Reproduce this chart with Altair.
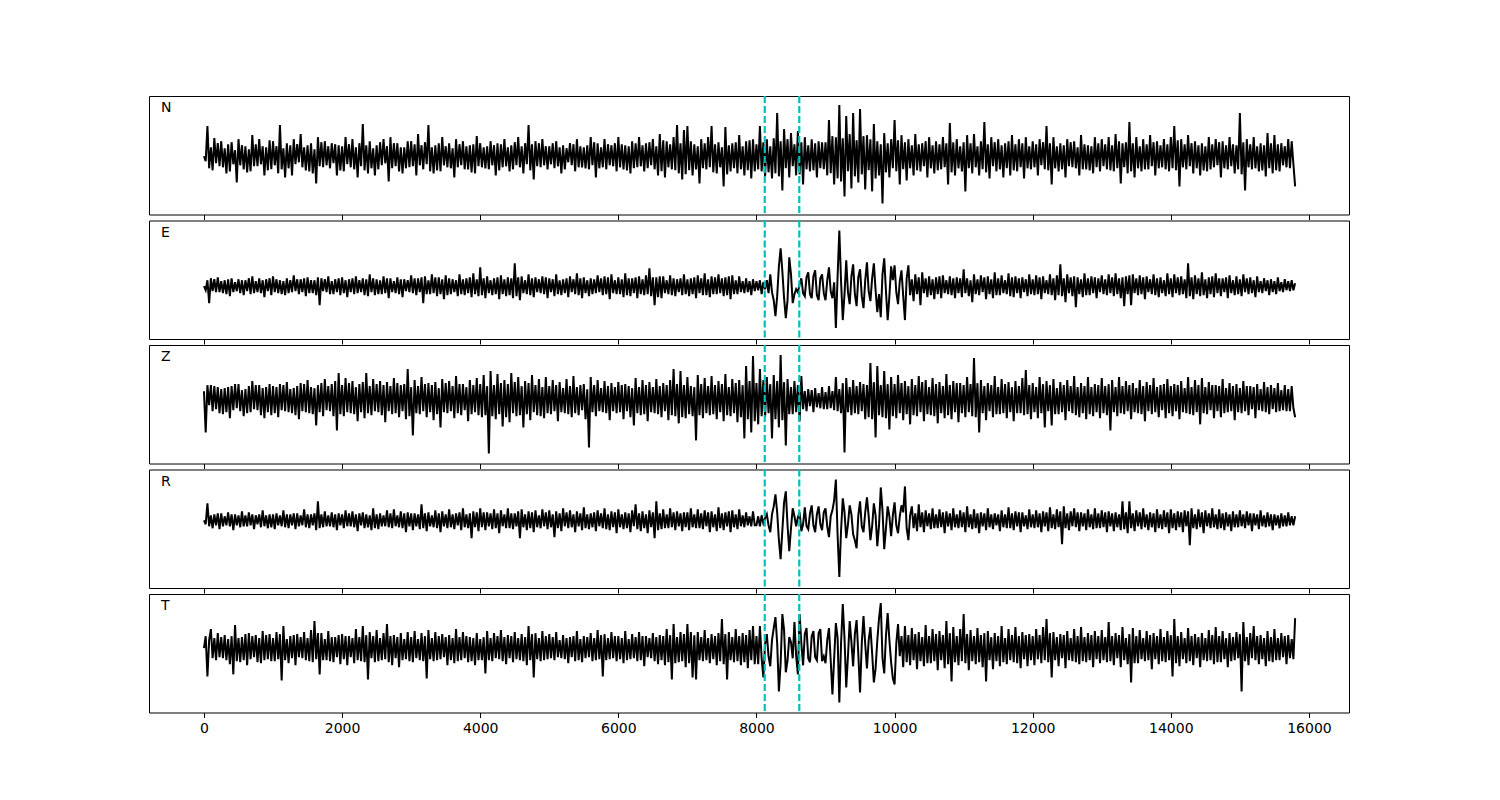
import altair as alt
import pandas as pd

STEP = 25
COMPONENTS = ["N", "E", "Z", "R", "T"]
PICKS = [8120, 8620]
X_TICKS = [0, 2000, 4000, 6000, 8000, 10000, 12000, 14000, 16000]

N_ROWS = [
    [0,-5, 30,-12, 9,-14, 18,-7, 13,-10, 15,-11, 8,-17, 12,-15, 14,-8, 6,-26, 17,-9, 11,-13, 10,-16, 7,-15, 21,-10, 12,-10, 17,-8, 10,-19, 9,-14, 16,-13],
    [15,-9, 10,-17, 31,-13, 8,-21, 13,-12, 11,-19, 17,-8, 12,-6, 22,-11, 9,-14, 11,-15, 13,-17, 7,-27, 19,-10, 14,-11, 15,-9, 10,-12, 13,-7, 12,-19, 11,-14],
    [10,-15, 19,-8, 12,-11, 17,-13, 9,-21, 13,-10, 32,-14, 11,-17, 15,-12, 8,-19, 11,-13, 14,-9, 17,-7, 10,-25, 19,-12, 13,-10, 13,-15, 9,-17, 9,-12, 15,-11],
    [15,-10, 12,-19, 22,-9, 11,-13, 14,-8, 31,-15, 9,-17, 11,-14, 13,-15, 19,-9, 10,-11, 13,-12, 8,-21, 17,-11, 12,-9, 15,-13, 10,-13, 11,-16, 12,-17, 20,-10],
    [13,-11, 9,-12, 10,-13, 15,-9, 11,-19, 13,-14, 12,-11, 17,-10, 9,-15, 11,-13, 14,-9, 19,-11, 10,-17, 13,-8, 31,-14, 12,-23, 15,-10, 13,-11, 17,-9, 10,-13],
    [10,-8, 13,-12, 15,-10, 9,-17, 11,-13, 8,-6, 13,-9, 12,-15, 17,-11, 10,-11, 9,-12, 11,-13, 19,-9, 14,-21, 13,-12, 9,-11, 17,-13, 12,-9, 11,-10, 13,-15],
    [19,-11, 12,-13, 11,-14, 10,-17, 15,-12, 13,-11, 19,-10, 11,-15, 13,-12, 14,-9, 17,-13, 10,-19, 22,-15, 16,-21, 15,-11, 12,-13, 19,-14, 31,-17, 13,-23, 26,-18],
    [30,-14, 15,-19, 12,-13, 10,-27, 17,-12, 13,-13, 19,-11, 30,-16, 12,-17, 14,-11, 9,-30, 29,-18, 11,-15, 13,-12, 14,-17, 21,-13, 10,-19, 15,-14, 16,-22, 17,-15],
    [12,-13, 30,-15, 14,-20, 17,-16, 10,-22, 18,-17, 43,-20, 15,-34, 27,-12, 17,-21, 23,-10, 12,-19, 25,-18, 14,-28, 19,-13, 11,-15, 17,-14, 13,-21, 15,-12, 14,-13],
    [14,-19, 36,-17, 20,-28, 19,-22, 51,-25, 18,-40, 40,-15, 22,-32, 43,-20, 16,-26, 47,-18, 20,-33, 21,-14, 17,-35, 32,-22, 15,-19, 12,-47, 23,-16, 13,-21, 17,-12],
    [36,-15, 16,-28, 21,-13, 14,-24, 17,-12, 11,-19, 22,-14, 12,-15, 13,-10, 15,-21, 19,-12, 11,-17, 15,-14, 12,-13, 19,-11, 13,-28, 33,-16, 14,-19, 17,-12, 10,-15],
    [14,-35, 21,-12, 13,-17, 22,-11, 10,-19, 15,-13, 34,-16, 12,-22, 19,-10, 14,-15, 17,-13, 11,-21, 13,-12, 15,-19, 21,-14, 12,-15, 17,-11, 13,-22, 19,-12, 10,-13],
    [15,-11, 12,-19, 17,-9, 14,-13, 30,-14, 13,-28, 19,-12, 10,-15, 13,-13, 11,-21, 17,-10, 14,-11, 15,-12, 9,-19, 21,-13, 12,-13, 11,-14, 10,-17, 19,-11, 13,-15],
    [17,-10, 12,-13, 19,-14, 11,-15, 22,-12, 15,-27, 13,-11, 14,-17, 34,-15, 13,-21, 19,-12, 10,-15, 17,-13, 12,-13, 21,-10, 14,-19, 15,-12, 11,-11, 17,-13, 12,-15],
    [19,-12, 30,-14, 16,-30, 17,-11, 12,-13, 21,-10, 13,-17, 15,-12, 11,-19, 13,-14, 10,-15, 19,-13, 12,-11, 17,-9, 14,-21, 15,-12, 11,-13, 19,-10, 12,-17, 11,-13],
    [43,-18, 14,-34, 17,-11, 12,-13, 19,-12, 10,-15, 13,-14, 11,-20, 23,-12, 13,-17, 21,-14, 12,-15, 13,-9, 10,-11, 17,-12, 15,-8, -30],
]

E_ROWS = [
    [0,-4, 6,-17, 8,-5, 7,-6, 9,-6, 5,-7, 6,-8, 7,-10, 8,-6, 4,-5, 7,-7, 6,-9, 6,-5, 8,-8, 10,-7, 5,-6, 8,-7, 6,-11, 7,-5, 8,-9],
    [10,-6, 7,-7, 6,-8, 5,-9, 8,-7, 6,-6, 11,-5, 7,-8, 7,-6, 8,-10, 9,-7, 6,-7, 6,-9, 9,-19, 8,-5, 7,-6, 10,-8, 5,-8, 7,-6, 8,-9],
    [9,-7, 6,-11, 7,-6, 8,-8, 10,-7, 6,-6, 8,-9, 7,-10, 12,-6, 8,-9, 7,-8, 6,-8, 10,-7, 8,-12, 8,-6, 5,-7, 9,-8, 7,-11, 7,-5, 6,-6],
    [11,-7, 8,-9, 8,-6, 9,-17, 10,-8, 6,-8, 12,-7, 9,-10, 9,-8, 7,-13, 11,-9, 8,-8, 7,-6, 6,-10, 12,-8, 7,-9, 8,-7, 9,-11, 13,-8, 7,-10],
    [19,-9, 8,-12, 10,-7, 6,-9, 8,-8, 9,-13, 11,-8, 7,-10, 9,-9, 8,-12, 23,-10, 9,-14, 10,-7, 6,-8, 12,-9, 8,-11, 9,-6, 7,-7, 10,-8, 9,-12],
    [8,-6, 7,-10, 12,-8, 6,-9, 7,-7, 8,-11, 10,-6, 7,-8, 13,-9, 8,-12, 9,-7, 6,-10, 8,-8, 7,-7, 11,-6, 8,-9, 10,-8, 9,-13, 12,-7, 6,-8],
    [9,-8, 7,-11, 13,-9, 8,-10, 8,-7, 9,-12, 10,-8, 7,-9, 11,-8, 18,-10, 9,-19, 9,-11, 10,-12, 10,-7, 6,-8, 11,-9, 8,-10, 7,-6, 8,-9, 12,-8],
    [7,-10, 8,-8, 9,-12, 11,-7, 8,-9, 13,-9, 7,-11, 10,-8, 9,-8, 12,-7, 8,-10, 9,-9, 10,-13, 11,-8, 6,-8, 10,-6, 5,-7, 8,-6, 5,-9, 7,-5],
    [5,-4, 6,-8, 4,-3, 6,-7, 12,-6, -14,-30, -10,20, 38,15, -12,-32, -14,29, 12,-17, -8,-3, -6,2, 8,-7, -10,9, 14,-8, -12,10, 16,-9, -14,8, 12,-7],
    [-14,6, 19,-5, -12,4, -42,10, 56,5, -34,-8, 26,-6, -18,10, 22,-8, -20,9, 17,-10, -22,6, 24,-5, -15,8, 23,-4, -26,-8, -31,12, 28,-5, -34,-10, 20,6],
    [21,-6, -18,5, 16,-10, -34,8, 21,-9, 7,-15, 12,-8, 9,-19, 14,-7, 8,-11, 10,-9, 7,-13, 9,-8, 10,-12, 11,-7, 6,-8, 10,-9, 8,-12, 9,-7, 8,-11],
    [17,-7, 8,-10, 6,-16, 12,-8, 7,-9, 11,-6, 9,-13, 10,-8, 7,-12, 14,-9, 8,-9, 11,-7, 6,-8, 13,-10, 9,-11, 10,-7, 8,-12, 9,-6, 7,-10, 12,-8],
    [7,-9, 11,-8, 9,-13, 10,-7, 6,-8, 12,-9, 8,-14, 11,-9, 22,-10, 8,-16, 12,-7, 9,-10, 10,-21, 9,-8, 7,-11, 13,-9, 8,-9, 10,-7, 9,-12, 8,-6],
    [11,-8, 7,-9, 12,-7, 9,-10, 13,-8, 8,-12, 9,-20, 10,-8, 11,-19, 12,-7, 8,-9, 11,-8, 9,-13, 10,-6, 7,-8, 12,-9, 8,-11, 9,-7, 6,-10, 13,-8],
    [8,-11, 12,-7, 9,-9, 10,-8, 7,-12, 23,-10, 9,-13, 11,-8, 8,-10, 14,-9, 7,-12, 9,-8, 10,-11, 13,-7, 8,-10, 8,-6, 9,-12, 11,-7, 6,-9, 10,-8],
    [7,-10, 12,-6, 8,-8, 9,-7, 6,-11, 10,-6, 5,-7, 8,-5, 6,-9, 7,-6, 5,-8, 9,-5, 4,-6, 7,-4, 5,-5, 6,-4, 3],
]

Z_ROWS = [
    [8,-33, 14,-6, 14,-12, 13,-10, 12,-14, 10,-15, 11,-13, 12,-19, 13,-11, 15,-9, 15,-12, 9,-17, 10,-14, 13,-13, 18,-10, 14,-11, 14,-16, 11,-19, 12,-13, 15,-16],
    [13,-14, 12,-18, 15,-11, 14,-12, 17,-13, 10,-14, 11,-16, 13,-20, 16,-12, 15,-13, 19,-14, 12,-15, 11,-26, 14,-13, 16,-17, 20,-11, 13,-12, 15,-17, 18,-31, 26,-15],
    [14,-17, 21,-13, 16,-14, 18,-15, 12,-22, 15,-13, 17,-19, 26,-14, 13,-16, 20,-12, 15,-13, 18,-16, 14,-23, 17,-12, 13,-15, 21,-14, 16,-18, 14,-12, 15,-20, 30,-17],
    [12,-36, 19,-14, 13,-15, 22,-12, 15,-18, 16,-13, 14,-21, 17,-15, 11,-28, 20,-13, 16,-14, 18,-12, 13,-19, 23,-14, 15,-16, 15,-11, 12,-22, 19,-15, 14,-13, 21,-16],
    [15,-18, 24,-16, 13,-54, 28,-17, 14,-20, 25,-15, 16,-27, 19,-18, 15,-23, 26,-14, 17,-17, 22,-16, 13,-28, 18,-15, 16,-21, 24,-13, 14,-16, 20,-17, 12,-19, 22,-14],
    [13,-15, 19,-12, 14,-22, 17,-13, 11,-14, 20,-15, 13,-18, 23,-14, 12,-16, 14,-11, 15,-20, 10,-48, 22,-13, 14,-17, 19,-12, 11,-13, 18,-14, 13,-21, 16,-12, 12,-14],
    [17,-13, 14,-20, 15,-12, 13,-18, 11,-26, 21,-14, 12,-16, 19,-15, 14,-22, 17,-13, 12,-14, 20,-15, 13,-18, 16,-12, 14,-21, 19,-16, 30,-17, 15,-24, 28,-18, 14,-19],
    [22,-15, 13,-17, 12,-41, 24,-16, 15,-19, 21,-14, 13,-16, 23,-15, 14,-20, 18,-13, 15,-22, 25,-16, 12,-17, 20,-14, 16,-23, 19,-18, 14,-39, 33,-20, 18,-33, 43,-22],
    [16,-25, 30,-17, 19,-18, 22,-14, 15,-39, 24,-20, 18,-28, 44,-21, 17,-46, 20,-15, 12,-15, 18,-13, 14,-22, 23,-10, 8,-12, 10,-7, 9,-13, 11,-8, 6,-9, 12,-10],
    [7,-10, 13,-9, 8,-11, 22,-12, 10,-14, 16,-53, 21,-13, 12,-16, 19,-14, 13,-15, 17,-12, 15,-20, 14,-18, 36,-20, 17,-38, 33,-16, 14,-18, 28,-19, 15,-30, 22,-17],
    [15,-19, 24,-14, 16,-21, 18,-15, 13,-25, 20,-16, 14,-17, 23,-13, 17,-22, 19,-15, 12,-16, 21,-17, 15,-24, 17,-14, 13,-19, 25,-16, 14,-20, 18,-13, 16,-23, 16,-14],
    [14,-18, 22,-13, 15,-17, 41,-18, 16,-33, 19,-14, 13,-21, 16,-12, 14,-18, 23,-15, 12,-15, 20,-14, 15,-19, 17,-13, 12,-22, 18,-14, 13,-14, 21,-16, 29,-15, 14,-20],
    [16,-13, 12,-19, 22,-14, 15,-28, 18,-12, 14,-26, 20,-15, 11,-15, 17,-13, 14,-21, 19,-12, 13,-14, 23,-16, 12,-18, 16,-14, 13,-20, 22,-15, 12,-17, 15,-13, 14,-19],
    [21,-14, 13,-16, 15,-31, 19,-13, 12,-17, 22,-14, 13,-15, 18,-12, 14,-20, 16,-13, 11,-14, 19,-15, 13,-22, 17,-12, 14,-15, 21,-13, 12,-18, 14,-11, 15,-19, 20,-14],
    [13,-17, 15,-12, 14,-20, 18,-13, 11,-14, 22,-15, 12,-16, 19,-13, 14,-25, 21,-14, 12,-15, 17,-11, 14,-19, 14,-12, 13,-18, 20,-14, 11,-13, 16,-12, 13,-21, 15,-13],
    [11,-14, 18,-12, 13,-16, 13,-10, 12,-19, 15,-11, 10,-12, 17,-13, 12,-15, 14,-10, 11,-13, 16,-12, 9,-11, 14,-12, 10,-12, 13,-9, -18],
]

R_ROWS = [
    [0,-4, 17,-6, 5,-8, 6,-5, 7,-9, 7,-6, 4,-5, 8,-6, 6,-10, 6,-5, 5,-7, 9,-6, 5,-6, 8,-5, 6,-9, 5,-4, 6,-7, 10,-6, 5,-8, 6,-7],
    [6,-9, 7,-5, 5,-6, 10,-7, 6,-8, 6,-5, 7,-9, 7,-6, 5,-5, 11,-7, 6,-8, 6,-5, 7,-10, 19,-8, 6,-7, 9,-6, 5,-6, 8,-7, 6,-10, 7,-5],
    [6,-8, 10,-6, 7,-6, 9,-7, 6,-11, 7,-5, 8,-8, 6,-7, 5,-10, 12,-8, 6,-9, 7,-6, 5,-6, 10,-7, 7,-8, 11,-6, 5,-7, 9,-8, 7,-12, 8,-6],
    [7,-10, 7,-6, 6,-9, 16,-8, 7,-11, 8,-6, 5,-7, 10,-8, 7,-12, 9,-6, 6,-8, 11,-7, 6,-9, 7,-5, 8,-10, 12,-7, 6,-8, 7,-18, 9,-7, 8,-11],
    [12,-7, 8,-10, 8,-6, 7,-9, 11,-8, 7,-13, 10,-6, 6,-8, 12,-8, 7,-9, 7,-6, 9,-18, 11,-7, 6,-10, 9,-8, 8,-12, 10,-7, 5,-8, 11,-6, 8,-9],
    [10,-7, 6,-17, 9,-8, 7,-11, 12,-6, 8,-8, 10,-7, 6,-12, 9,-6, 7,-10, 13,-8, 6,-9, 7,-7, 8,-11, 10,-6, 7,-8, 12,-9, 6,-10, 9,-7, 8,-13],
    [11,-7, 6,-9, 8,-8, 7,-12, 10,-6, 16,-9, 7,-11, 9,-8, 6,-13, 10,-7, 8,-18, 19,-10, 7,-9, 11,-8, 6,-8, 12,-7, 8,-10, 9,-6, 7,-11, 8,-7],
    [8,-10, 12,-7, 6,-8, 11,-8, 7,-9, 10,-6, 8,-12, 9,-7, 6,-11, 13,-8, 7,-10, 8,-6, 9,-12, 10,-7, 6,-9, 11,-6, 5,-7, 8,-5, 4,-6, 9,-5],
    [-5,4, -6,5, -3,2, 6,-5, -12,6, 14,26, 8,-20, -39,-10, 18,29, -5,-31, -8,12, 4,-6, 3,8, -11,-4, 13,-6, -9,7, 15,-5, -12,6, 14,-4, -10,8],
    [12,-6, -17,4, 10,20, 41,-15, -57,-10, 22,8, -18,-4, 15,6, -14,-20, -28,5, 19,-6, -12,8, 23,4, -20,-6, 17,5, -26,-5, 33,10, -29,-8, 14,4, -16,5],
    [18,-5, -13,4, 15,8, 34,-8, -20,5, 14,-8, 7,-11, 16,-7, 8,-12, 10,-6, 7,-9, 12,-8, 6,-8, 11,-7, 8,-13, 9,-6, 7,-10, 12,-7, 6,-8, 10,-7],
    [8,-12, 14,-7, 6,-9, 11,-8, 7,-13, 8,-6, 7,-10, 12,-7, 6,-9, 7,-5, 6,-11, 10,-7, 6,-8, 13,-8, 7,-10, 9,-6, 8,-12, 8,-6, 5,-9, 11,-7],
    [6,-8, 10,-7, 7,-12, 9,-6, 8,-11, 13,-8, 6,-9, 11,-7, 9,-24, 14,-8, 7,-10, 9,-6, 12,-7, 8,-11, 8,-6, 7,-10, 11,-7, 6,-9, 12,-8, 7,-8],
    [10,-7, 8,-12, 9,-6, 7,-11, 8,-7, 6,-10, 19,-9, 8,-13, 19,-8, 7,-11, 10,-6, 8,-9, 12,-7, 6,-10, 8,-7, 7,-12, 11,-8, 6,-9, 10,-7, 8,-13],
    [11,-8, 7,-10, 9,-7, 8,-12, 10,-6, 9,-25, 12,-8, 6,-9, 11,-7, 8,-13, 10,-6, 7,-8, 12,-7, 6,-9, 11,-8, 7,-10, 8,-6, 6,-11, 9,-7, 6,-7],
    [10,-6, 6,-8, 9,-5, 7,-11, 7,-5, 6,-9, 10,-6, 5,-7, 8,-6, 6,-10, 6,-5, 5,-8, 7,-6, 5,-6, 8,-5, 4,-5, 4],
]

T_ROWS = [
    [0,12, -28,8, 19,-10, 10,-12, 15,-9, 11,-10, 13,-12, 9,-16, 12,-26, 23,-13, 10,-14, 11,-12, 14,-17, 15,-11, 12,-9, 13,-14, 10,-15, 17,-12, 13,-11, 14,-13],
    [10,-13, 16,-11, 14,-32, 22,-12, 9,-15, 12,-10, 13,-17, 14,-9, 11,-10, 16,-12, 10,-13, 18,-14, 27,-11, 15,-26, 15,-12, 9,-12, 17,-13, 11,-14, 11,-9, 13,-16],
    [14,-11, 12,-17, 12,-9, 10,-15, 19,-12, 11,-13, 22,-14, 13,-31, 16,-10, 12,-14, 18,-13, 10,-12, 15,-11, 24,-14, 12,-17, 13,-10, 11,-19, 15,-12, 9,-11, 16,-13],
    [11,-14, 17,-10, 9,-12, 15,-13, 12,-30, 18,-11, 10,-13, 16,-12, 12,-11, 14,-9, 11,-17, 13,-12, 10,-15, 19,-13, 11,-12, 16,-10, 12,-14, 11,-13, 10,-17, 15,-12],
    [9,-12, 11,-25, 17,-12, 10,-13, 15,-10, 12,-11, 18,-13, 11,-16, 13,-10, 12,-14, 16,-11, 10,-12, 14,-13, 11,-17, 22,-12, 14,-29, 15,-11, 10,-13, 17,-12, 12,-11],
    [14,-10, 11,-12, 16,-9, 8,-10, 13,-11, 10,-15, 11,-9, 12,-13, 17,-12, 9,-14, 12,-10, 11,-9, 15,-13, 10,-12, 18,-11, 13,-28, 14,-12, 10,-11, 16,-10, 12,-13],
    [12,-11, 10,-15, 17,-12, 9,-11, 14,-10, 11,-13, 16,-12, 12,-18, 12,-9, 10,-10, 15,-13, 11,-16, 13,-12, 12,-17, 19,-14, 13,-31, 24,-15, 11,-14, 16,-13, 14,-19],
    [24,-15, 16,-29, 13,-31, 16,-12, 11,-13, 18,-12, 10,-15, 14,-11, 12,-17, 15,-13, 29,-16, 14,-31, 16,-12, 11,-14, 19,-13, 12,-17, 15,-14, 13,-20, 18,-12, 22,-16],
    [12,-16, 22,-10, -29,4, 14,-8, -18,8, 20,31, 5,-43, -15,34, 18,-24, -12,11, 6,-10, 26,-8, -26,34, 5,-17, 14,20, -10,-14, 12,17, -9,-12, 15,19, -13,-8],
    [-15,8, 20,-12, -46,-10, 25,10, -54,5, 44,10, -39,-8, 27,6, -18,14, 28,-6, -44,5, 32,4, -20,8, 21,-5, -34,-20, 8,30, 45,-10, -25,12, 35,8, -14,-30],
    [-36,5, 24,-8, 12,-19, 22,-14, 13,-17, 20,-12, 14,-21, 16,-13, 11,-18, 23,-15, 12,-15, 19,-13, 14,-22, 17,-12, 13,-20, 27,-16, 15,-33, 21,-14, 12,-17, 19,-13],
    [34,-15, 14,-22, 18,-13, 12,-16, 20,-14, 13,-19, 15,-33, 17,-12, 11,-21, 15,-13, 12,-18, 22,-14, 10,-16, 19,-12, 13,-14, 21,-15, 12,-20, 16,-11, 13,-18, 14,-12],
    [12,-17, 19,-11, 13,-15, 21,-12, 29,-14, 15,-29, 16,-12, 11,-18, 14,-10, 13,-20, 17,-12, 10,-13, 19,-14, 12,-16, 21,-13, 11,-14, 15,-12, 13,-19, 17,-11, 12,-15],
    [18,-12, 11,-14, 26,-13, 12,-17, 15,-10, 13,-19, 21,-12, 10,-16, 14,-34, 20,-15, 12,-15, 18,-11, 10,-13, 17,-12, 13,-21, 15,-11, 12,-16, 19,-13, 11,-14, 17,-12],
    [13,-28, 29,-15, 12,-18, 16,-11, 10,-15, 20,-13, 12,-17, 14,-10, 11,-19, 15,-12, 10,-13, 18,-12, 13,-16, 21,-14, 12,-14, 17,-11, 10,-19, 15,-13, 11,-12, 16,-10],
    [14,-43, 26,-13, 11,-17, 15,-10, 22,-12, 12,-16, 13,-11, 10,-18, 17,-13, 11,-14, 19,-12, 10,-12, 15,-9, 12,-16, 13,-10, 9,-11, 30],
]

SERIES_ROWS = [N_ROWS, E_ROWS, Z_ROWS, R_ROWS, T_ROWS]
Y_DOMAINS = [[-58, 60], [-53, 66], [-64, 54], [-68, 51], [-64, 54]]


def flatten(name, rows):
    out = []
    bad = []
    for i, row in enumerate(rows):
        expected = 40 if i < len(rows) - 1 else 33
        if len(row) != expected:
            bad.append((i, len(row)))
        out.extend(row)
    if bad:
        raise ValueError(f"{name} rows with wrong length: {bad}")
    return out


X_SCALE = alt.Scale(domain=[-796, 16580], nice=False, zero=False)


def x_enc(show_labels):
    return alt.X(
        "x:Q",
        scale=X_SCALE,
        axis=alt.Axis(
            values=X_TICKS,
            labels=show_labels,
            format="d",
            domain=False,
            grid=False,
            ticks=True,
            tickColor="black",
            tickWidth=1,
            tickSize=5,
            labelFontSize=14,
            labelFont="DejaVu Sans",
            labelColor="black",
            labelPadding=4,
            title=None,
        ),
    )


def panel(name, values, domain, last):
    df = pd.DataFrame({"x": [i * STEP for i in range(len(values))], "v": values})
    line = alt.Chart(df).mark_line(color="black", strokeWidth=2).encode(
        x=x_enc(last),
        y=alt.Y("v:Q", scale=alt.Scale(domain=domain, nice=False, zero=False), axis=None),
    )
    picks = alt.Chart(pd.DataFrame({"x": PICKS})).mark_rule(
        color="#00bfbf", strokeWidth=2.2, strokeDash=[7, 3]
    ).encode(x=x_enc(last))
    label = alt.Chart(pd.DataFrame({"c": [name]})).mark_text(
        align="left", baseline="middle", fontSize=14, font="DejaVu Sans", color="black"
    ).encode(text="c:N", x=alt.value(12), y=alt.value(12))
    return alt.layer(line, picks, label).properties(width=1200, height=118.5)


panels = []
for i, (name, rows, dom) in enumerate(zip(COMPONENTS, SERIES_ROWS, Y_DOMAINS)):
    panels.append(panel(name, flatten(name, rows), dom, i == len(COMPONENTS) - 1))

chart = (
    alt.vconcat(*panels, spacing=5.5, bounds="flush")
    .properties(padding={"left": 140, "top": 86, "right": 20, "bottom": 20}, background="white")
    .configure_view(stroke="black", strokeWidth=1)
)

chart.save("out.html", embed_options={"renderer": "svg", "actions": False})
